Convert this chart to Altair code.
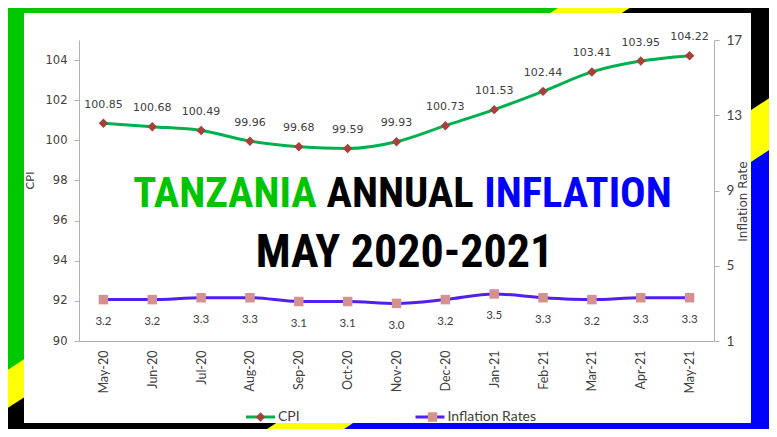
import base64
import altair as alt
import pandas as pd

# ---------------- data ----------------
months = ["May-20", "Jun-20", "Jul-20", "Aug-20", "Sep-20", "Oct-20", "Nov-20",
          "Dec-20", "Jan-21", "Feb-21", "Mar-21", "Apr-21", "May-21"]
cpi = [100.85, 100.68, 100.49, 99.96, 99.68, 99.59, 99.93,
       100.73, 101.53, 102.44, 103.41, 103.95, 104.22]
inflation = [3.2, 3.2, 3.3, 3.3, 3.1, 3.1, 3.0, 3.2, 3.5, 3.3, 3.2, 3.3, 3.3]
series_names = ["CPI", "Inflation Rates"]
cpi_ticks = [90, 92, 94, 96, 98, 100, 102, 104]
infl_ticks = [1, 5, 9, 13, 17]
title_words = ["TANZANIA", "ANNUAL", "INFLATION"]
title_colors = ["#00c400", "#000000", "#0000ff"]
subtitle = "MAY 2020-2021"

# ---------------- layout / style ----------------
W, H = 635, 301
PL, PT, PR, PB = 71, 32, 55, 88
CW, CH = W + PL + PR, H + PT + PB

GREEN_LINE = "#00b050"
BLUE_LINE = "#5020f0"
CPI_MARK = "#a5403b"
INF_MARK = "#d4918f"
AXIS_GREY = "#b0b0b0"
LABEL = "#404040"
TITLE_FONT = ("Roboto Condensed, Noto Sans ExtraCondensed, Noto Sans Condensed, "
              "Open Sans Condensed, Liberation Sans Narrow, DejaVu Sans Condensed, sans-serif")

flag_svg = f"""<svg xmlns="http://www.w3.org/2000/svg" width="{CW}" height="{CH}" viewBox="8 8 {CW} {CH}" preserveAspectRatio="none">
<rect x="0" y="0" width="777" height="437" fill="#00c800"/>
<polygon points="0,375 570,0 777,0 777,145 332,437 0,437" fill="#ffff00"/>
<polygon points="0,413 642,0 777,0 777,93 255,437 0,437" fill="#000000"/>
<polygon points="332,437 777,145 777,437" fill="#0000ff"/>
<rect x="24" y="13" width="727" height="410" fill="#ffffff"/>
</svg>"""
flag_url = "data:image/svg+xml;base64," + base64.b64encode(flag_svg.encode()).decode()

df = pd.DataFrame({
    "month": months + months,
    "series": [series_names[0]] * len(months) + [series_names[1]] * len(months),
    "value": cpi + inflation,
})
df["marker"] = df["series"]

x_enc = alt.X("month:N", sort=months,
              scale=alt.Scale(type="point", padding=0.5),
              axis=alt.Axis(title=None, labelAngle=-90, ticks=False, labelPadding=9,
                            domainColor=AXIS_GREY, labelFont="Lato", labelFontSize=12.5,
                            labelColor=LABEL, zindex=1))

stroke_enc = alt.Stroke("series:N",
                        scale=alt.Scale(domain=series_names, range=[GREEN_LINE, BLUE_LINE]),
                        legend=alt.Legend(title=None, orient="none", legendX=165.5, legendY=361,
                                          direction="horizontal", symbolType="stroke",
                                          symbolSize=841, symbolStrokeWidth=3,
                                          labelFont="Lato", labelFontSize=14, labelColor=LABEL,
                                          labelOffset=1.5, columnPadding=108.5, padding=0,
                                          zindex=1))
marker_legend = alt.Legend(title=None, orient="none", legendX=165.5, legendY=370,
                           direction="horizontal", symbolSize=90, symbolStrokeWidth=0,
                           symbolOffset=9, labelFont="Lato", labelFontSize=14,
                           labelExpr="''", labelOffset=19.5, columnPadding=129,
                           padding=0, zindex=2)
fill_enc = alt.Fill("marker:N", scale=alt.Scale(range=[CPI_MARK, INF_MARK]), legend=marker_legend)
shape_enc = alt.Shape("marker:N", scale=alt.Scale(range=["diamond", "square"]), legend=marker_legend)


def series_layer(name, y_enc, fmt, dy, font, fsize):
    b = alt.Chart().encode(x=x_enc, y=y_enc)
    line = b.mark_line(strokeWidth=3, interpolate="monotone").encode(stroke=stroke_enc)
    pts = b.mark_point(filled=True, size=90, opacity=1).encode(fill=fill_enc, shape=shape_enc)
    txt = b.mark_text(dy=dy, baseline="middle", font=font, fontSize=fsize, color=LABEL).encode(
        text=alt.Text("value:Q", format=fmt))
    return alt.layer(line, pts, txt, data=df).transform_filter(alt.datum.series == name)


y_cpi = alt.Y("value:Q", scale=alt.Scale(domain=[90, 105], nice=False, zero=False),
              axis=alt.Axis(title="CPI", values=cpi_ticks, grid=False, tickSize=5, labelPadding=7,
                            domainColor=AXIS_GREY, tickColor=AXIS_GREY, labelFont="DejaVu Sans",
                            labelFontSize=11.5, labelColor=LABEL, titleFont="Lato",
                            titleFontSize=11.5, titleFontWeight="normal", titleColor=LABEL,
                            titleX=-49, titleY=140, titleAngle=270, titleAlign="center",
                            titleBaseline="middle", zindex=1))
y_inf = alt.Y("value:Q", scale=alt.Scale(domain=[1, 17], nice=False, zero=False),
              axis=alt.Axis(title="Inflation Rate", orient="right", values=infl_ticks, grid=False,
                            tickSize=5, labelPadding=7, domainColor=AXIS_GREY, tickColor=AXIS_GREY,
                            labelFont="Lato", labelFontSize=13.5, labelColor=LABEL,
                            titleFont="DejaVu Sans", titleFontSize=12, titleFontWeight="normal",
                            titleColor=LABEL, titleX=28, titleY=161, titleAngle=270,
                            titleAlign="center", titleBaseline="middle", zindex=1))

cpi_layer = series_layer(series_names[0], y_cpi, ".2f", -18.5, "DejaVu Sans", 11)
inf_layer = series_layer(series_names[1], y_inf, ".1f", 22.5, "Lato", 11.5)

bg = alt.Chart(pd.DataFrame({"a": [0]})).mark_image(
    url=flag_url, width=CW, height=CH, align="left", baseline="top", aspect=False
).encode(x=alt.value(-PL), y=alt.value(-PT))


def title_text(word, color, xpos, ypos, size):
    return alt.Chart(pd.DataFrame({"t": [word]})).mark_text(
        align="center", baseline="alphabetic", font=TITLE_FONT, fontSize=size,
        fontWeight="bold", color=color
    ).encode(text="t:N", x=alt.value(xpos), y=alt.value(ypos))


t1 = title_text(title_words[0], title_colors[0], 146, 167, 42.5)
t2 = title_text(title_words[1], title_colors[1], 321, 167, 42.5)
t3 = title_text(title_words[2], title_colors[2], 499, 167, 42.5)
t4 = title_text(subtitle, "#000000", 325.5, 227, 46)

chart = alt.layer(bg, cpi_layer, inf_layer, t1, t2, t3, t4).resolve_scale(
    y="independent"
).properties(
    width=W, height=H,
    padding={"left": PL, "top": PT, "right": PR, "bottom": PB},
    autosize=alt.AutoSizeParams(type="none"),
).configure_view(strokeWidth=0)

chart.save("out.html", embed_options={"renderer": "svg", "actions": False})
